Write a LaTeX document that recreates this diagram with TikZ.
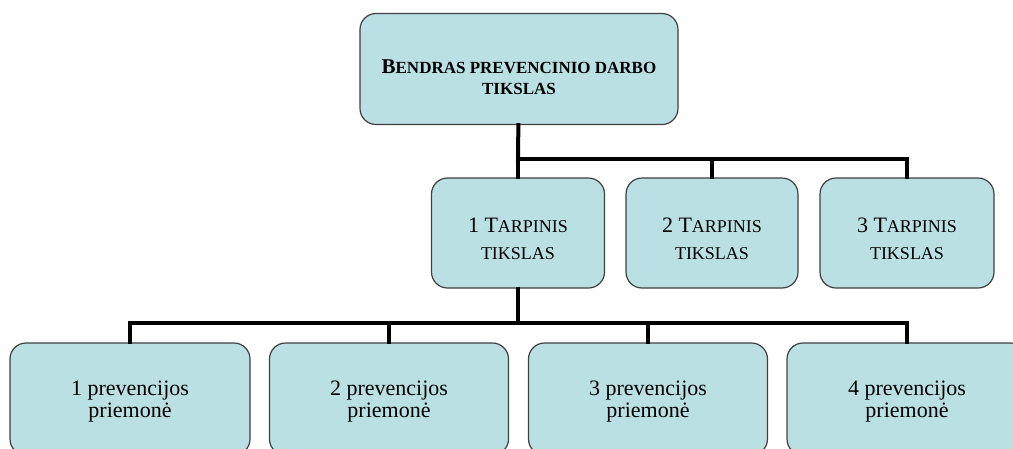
\documentclass[tikz,border=0pt]{standalone}
\usepackage{fontspec}
\setmainfont{Liberation Serif}
\definecolor{boxfill}{RGB}{186,224,228}
\definecolor{boxline}{RGB}{64,64,64}
\newcommand{\smc}[2]{{\fontsize{#1}{#1}\selectfont #2}}
\newcommand{\lift}[1]{\rule{0pt}{#1pt}}
\begin{document}
\begin{tikzpicture}[x=1pt,y=-1pt,
    goalbox/.style={draw=boxline, line width=1.2pt, fill=boxfill, rounded corners=16pt, align=center, text=black},
    link/.style={line width=4pt, line cap=rect}]
    \path[use as bounding box, clip] (0,0) rectangle (1013,448);
    \node[goalbox, minimum width=318pt, minimum height=111pt, font=\bfseries\fontsize{21}{20}\selectfont] (g_0) at (519,69)
      {\lift{30}B\smc{17}{ENDRAS PREVENCINIO DARBO}\\[1pt]\smc{17}{TIKSLAS}};
    \node[goalbox, minimum width=173pt, minimum height=110pt, font=\fontsize{22}{26}\selectfont] (t_1) at (518,233)
      {\lift{27}1 T\smc{18}{ARPINIS}\\[1pt]\smc{18}{TIKSLAS}};
    \node[goalbox, minimum width=172pt, minimum height=110pt, font=\fontsize{22}{26}\selectfont] (t_2) at (712,233)
      {\lift{27}2 T\smc{18}{ARPINIS}\\[1pt]\smc{18}{TIKSLAS}};
    \node[goalbox, minimum width=174pt, minimum height=110pt, font=\fontsize{22}{26}\selectfont] (t_3) at (907,233)
      {\lift{27}3 T\smc{18}{ARPINIS}\\[1pt]\smc{18}{TIKSLAS}};
    \node[goalbox, minimum width=240pt, minimum height=112pt, font=\fontsize{22}{22}\selectfont] (p_1) at (130,399)
      {\lift{20}1 prevencijos\\priemonė};
    \node[goalbox, minimum width=239pt, minimum height=112pt, font=\fontsize{22}{22}\selectfont] (p_2) at (389,399)
      {\lift{20}2 prevencijos\\priemonė};
    \node[goalbox, minimum width=239pt, minimum height=112pt, font=\fontsize{22}{22}\selectfont] (p_3) at (648,399)
      {\lift{20}3 prevencijos\\priemonė};
    \node[goalbox, minimum width=240pt, minimum height=112pt, font=\fontsize{22}{22}\selectfont] (p_4) at (907,399)
      {\lift{20}4 prevencijos\\priemonė};
    \coordinate (j_1) at (518,159);
    \coordinate (j_2) at (518,323);
    \draw[link] (g_0) -- (j_1);
    \draw[link] (j_1) -- (t_1);
    \draw[link] (j_1) -| (t_2);
    \draw[link] (j_1) -| (t_3);
    \draw[link] (t_1) -- (j_2);
    \draw[link] (j_2) -| (p_1);
    \draw[link] (j_2) -| (p_2);
    \draw[link] (j_2) -| (p_3);
    \draw[link] (j_2) -| (p_4);
  \end{tikzpicture}
\end{document}
